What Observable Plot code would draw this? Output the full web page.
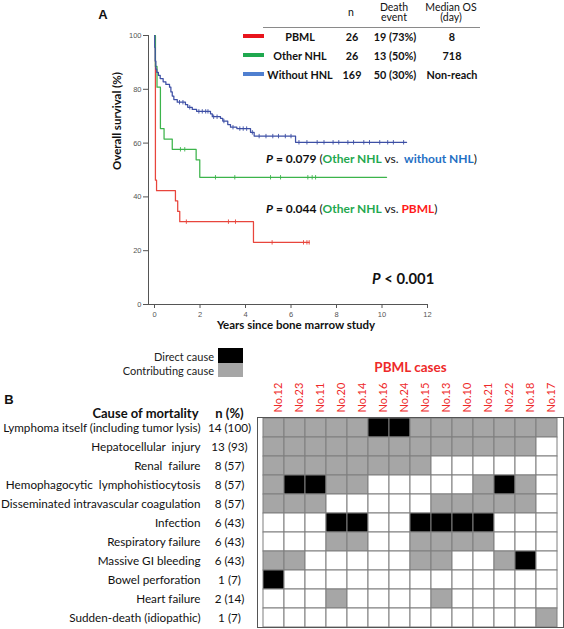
<!DOCTYPE html>
<html><head><meta charset="utf-8">
<script src="https://cdn.jsdelivr.net/npm/d3@7"></script>
<script src="https://cdn.jsdelivr.net/npm/@observablehq/plot@0.6"></script>
<style>
body{margin:0;background:#fff;}
#wrap{position:relative;width:564px;height:629px;overflow:hidden;font-family:Lato,"Open Sans",sans-serif;color:#111;}
#wrap svg{position:absolute;left:0;}
.abs{position:absolute;white-space:pre;line-height:1;}
</style></head><body><div id="wrap"></div>
<script>
// ---------- Panel A data ----------
const groupNames = ["PBML", "Other NHL", "Without HNL"];
const groupN = ["26", "26", "169"];
const groupDeaths = ["19 (73%)", "13 (50%)", "50 (30%)"];
const groupMedian = ["8", "718", "Non-reach"];
// Kaplan-Meier steps [years, survival %]
const pbmlSteps = [[0,100],[0.04,46.2],[0.09,42.3],[0.92,38.5],[1.02,34.6],[1.11,30.8],[4.35,23.1],[6.8,23.1]];
const otherSteps = [[0,100],[0.04,88.5],[0.11,80.8],[0.26,65.4],[0.42,61.5],[0.78,57.7],[1.83,53.8],[1.99,47.3],[10.2,47.3]];
const withoutSteps = [[0,100],[0.01,95.5],[0.03,90.5],[0.06,87.5],[0.1,86.3],[0.17,85.2],[0.25,84.0],[0.38,82.8],[0.5,81.8],[0.66,80.8],[0.72,79.0],[0.78,77.5],[0.85,76.2],[1.0,75.2],[1.36,74.3],[1.46,73.3],[1.66,72.5],[1.85,71.8],[2.46,70.9],[2.54,69.8],[2.9,69.2],[3.0,68.2],[3.22,66.9],[3.34,65.9],[3.62,65.4],[4.22,64.0],[4.38,62.6],[6.2,60.3],[11.08,60.3]];
// censor times (years)
const pbmlCensor = [1.4, 3.25, 3.56, 5.17, 6.55, 6.7, 6.8];
const otherCensor = [1.14, 1.33, 2.68, 3.53, 5.1, 5.54, 6.74, 6.93, 7.08];
const withoutCensor = [1.1, 1.25, 1.55, 1.95, 2.1, 2.25, 2.35, 2.6, 2.75, 3.05, 3.45, 3.75, 3.9, 4.05, 4.3, 4.6, 4.9, 5.2, 5.45, 5.75, 6.0, 6.35, 6.7, 7.15, 7.45, 7.85, 8.1, 8.5, 8.75, 9.2, 9.45, 9.9, 10.25, 10.5, 10.95];
const xTicks = [0, 2, 4, 6, 8, 10, 12];
const yTicks = [0, 20, 40, 60, 80, 100];
const lineColors = ["#e8453c", "#3cb44b", "#3d4fa5"];
const swatchColors = ["#e8141c", "#1fa84f", "#4f7fd0"];

// ---------- Panel B data ----------
const cases = ["No.12","No.23","No.11","No.20","No.14","No.16","No.24","No.15","No.13","No.10","No.21","No.22","No.18","No.17"];
const causes = ["Lymphoma itself (including tumor lysis)","Hepatocellular  injury","Renal  failure","Hemophagocytic  lymphohistiocytosis","Disseminated intravascular coagulation","Infection","Respiratory failure","Massive GI bleeding","Bowel perforation","Heart failure","Sudden-death (idiopathic)"];
const causeCounts = ["14 (100)","13 (93)","8 (57)","8 (57)","8 (57)","6 (43)","6 (43)","6 (43)","1 (7)","2 (14)","1 (7)"];
// 0 = none, 1 = contributing cause, 2 = direct cause
const causeMatrix = [
  [1,1,1,1,1,2,2,1,1,1,1,1,1,1],
  [1,1,1,1,1,1,1,1,1,1,1,1,1,0],
  [1,1,1,1,1,1,1,1,0,0,0,0,0,0],
  [1,2,2,1,1,0,0,0,0,0,1,2,1,0],
  [1,1,1,0,0,0,0,0,1,1,1,1,1,0],
  [0,0,0,2,2,0,0,2,2,2,2,0,0,0],
  [0,0,0,1,1,0,0,1,1,1,1,0,0,0],
  [1,1,0,0,0,0,0,1,1,0,0,1,2,0],
  [2,0,0,0,0,0,0,0,0,0,0,0,0,0],
  [0,0,0,1,0,0,0,0,1,0,0,0,0,0],
  [0,0,0,0,0,0,0,0,0,0,0,0,0,1]
];
const cellColors = ["#ffffff", "#a6a6a6", "#000000"];
const redText = "#ee2a2a";

const wrap = document.getElementById("wrap");

// ---------- Panel A plot ----------
const allSteps = [pbmlSteps, otherSteps, withoutSteps];
const allCensor = [pbmlCensor, otherCensor, withoutCensor];
const stepAt = (steps, t) => { let v = steps[0][1]; for (const [tt, s] of steps) if (tt <= t) v = s; return v; };
const lineData = allSteps.flatMap((st, i) => st.map(([t, s]) => ({t, s, g: groupNames[i]})));
const censorData = allCensor.flatMap((cs, i) => cs.map(t => ({t, s: stepAt(allSteps[i], t), g: groupNames[i]})));
const vtick = {draw(ctx, size){ const r = Math.sqrt(size / Math.PI); ctx.moveTo(0, -r); ctx.lineTo(0, r); }};

const plotA = Plot.plot({
  width: 564, height: 340,
  marginLeft: 148, marginRight: 137, marginTop: 35, marginBottom: 36,
  style: {fontFamily: "'Liberation Sans', Arial, sans-serif", fontSize: "7.5px", color: "#555", background: "transparent"},
  x: {domain: [-0.264, 12], ticks: xTicks, tickSize: 4, tickPadding: 3, line: true, label: null},
  y: {domain: [0, 100], ticks: yTicks, tickSize: 5, tickPadding: 2, line: true, label: null},
  color: {domain: groupNames, range: lineColors},
  marks: [
    Plot.line(lineData, {x: "t", y: "s", z: "g", stroke: "g", curve: "step-after", strokeWidth: 1.25}),
    Plot.dot(censorData, {x: "t", y: "s", stroke: "g", symbol: vtick, r: 2.2, fill: "none", strokeWidth: 0.9}),
    Plot.text(["Overall survival (%)"], {text: d => d, frameAnchor: "left", rotate: -90, dx: -31, fontWeight: "bold", fontSize: 11.5, fill: "#111", fontFamily: "Lato"}),
    Plot.text(["Years since bone marrow study"], {text: d => d, frameAnchor: "bottom", dy: 24, dx: 8, fontWeight: "bold", fontSize: 11.5, fill: "#111", fontFamily: "Lato"})
  ]
});
plotA.style.top = "0px";
wrap.appendChild(plotA);

// ---------- Panel B plot ----------
const cellData = causeMatrix.flatMap((row, i) => row.map((v, j) => ({cause: causes[i], kase: cases[j], v})));
const rowData = causes.map((c, i) => ({cause: c, n: causeCounts[i]}));
const plotB = Plot.plot({
  width: 564, height: 289,
  marginLeft: 257, marginRight: 1, marginTop: 77, marginBottom: 2,
  style: {fontFamily: "Lato, sans-serif", fontSize: "11px", color: "#111", background: "transparent"},
  x: {domain: cases, padding: 0, axis: null},
  y: {domain: causes, padding: 0, axis: null},
  color: {type: "ordinal", domain: [0, 1, 2], range: cellColors},
  marks: [
    Plot.cell(cellData, {x: "kase", y: "cause", fill: "v", stroke: "#7f7f7f", strokeWidth: 1}),
    Plot.frame({stroke: "#555", strokeWidth: 1}),
    Plot.text(cases, {x: d => d, text: d => d, frameAnchor: "top", rotate: -90, textAnchor: "start", dy: -5, fill: redText, fontSize: 11}),
    Plot.text(rowData, {y: "cause", text: "cause", frameAnchor: "left", textAnchor: "end", dx: -57, fontSize: 11.7}),
    Plot.text(rowData, {y: "cause", text: "n", frameAnchor: "left", textAnchor: "middle", dx: -28, fontSize: 11.7}),
    Plot.text(["Cause of mortality"], {text: d => d, frameAnchor: "top-left", textAnchor: "end", dx: -59, dy: -9, fontWeight: "bold", fontSize: 13}),
    Plot.text(["n (%)"], {text: d => d, frameAnchor: "top-left", textAnchor: "middle", dx: -28, dy: -9, fontWeight: "bold", fontSize: 13}),
    Plot.text(["PBML cases"], {text: d => d, frameAnchor: "top", dy: -55, fontWeight: "bold", fontSize: 13.5, fill: redText})
  ]
});
plotB.style.top = "340px";
wrap.appendChild(plotB);

// ---------- overlays: panel labels, legend table, annotations ----------
function put(html, x, y, anchor, css) {
  const d = document.createElement("div");
  d.className = "abs";
  d.innerHTML = html;
  d.style.cssText += css || "";
  d.style.left = x + "px"; d.style.top = y + "px";
  const tx = anchor === "start" ? "0" : anchor === "end" ? "-100%" : "-50%";
  d.style.transform = `translate(${tx},-50%)`;
  wrap.appendChild(d);
  return d;
}
function box(x, y, w, h, color) {
  const d = document.createElement("div");
  d.style.cssText = `position:absolute;left:${x}px;top:${y}px;width:${w}px;height:${h}px;background:${color};`;
  wrap.appendChild(d);
}
put("A", 103, 14, "middle", "font:bold 13px 'Liberation Sans',Arial,sans-serif;");
put("B", 9, 399, "middle", "font:bold 13px 'Liberation Sans',Arial,sans-serif;");

// legend table
const hdr = "font:10.5px Lato,sans-serif;text-align:center;line-height:10px;";
put("n", 351, 12, "middle", hdr);
put("Death\nevent", 394, 12, "middle", hdr);
put("Median OS\n(day)", 451, 12, "middle", hdr);
box(263, 26.5, 217, 1.6, "#8a8a8a");
const rowY = [36, 55, 73.5];
const cellCss = "font:bold 10.8px Lato,sans-serif;";
groupNames.forEach((g, i) => {
  box(243, rowY[i] - 2, 21, 4, swatchColors[i]);
  put(g, 300, rowY[i], "middle", cellCss);
  put(groupN[i], 352, rowY[i], "middle", cellCss);
  put(groupDeaths[i], 395, rowY[i], "middle", cellCss);
  put(groupMedian[i], 452, rowY[i], "middle", cellCss);
});

// p-value annotations
const pCss = "font:bold 12px Lato,sans-serif;";
const grn = "#1fa84f", blu = "#1f6fc4", red = "#ff1a1a";
put(`<i>P</i> = 0.079 <span style="font-weight:normal">(</span><span style="color:${grn}">Other NHL</span> <span style="font-weight:normal">vs.</span>  <span style="color:${blu}">without NHL</span><span style="font-weight:normal">)</span>`, 266, 158, "start", pCss);
put(`<i>P</i> = 0.044 <span style="font-weight:normal">(</span><span style="color:${grn}">Other NHL</span> <span style="font-weight:normal">vs.</span> <span style="color:${red}">PBML</span><span style="font-weight:normal">)</span>`, 266, 208, "start", pCss);
put(`<i>P</i> &lt; 0.001`, 372, 278, "start", "font:bold 14.8px Lato,sans-serif;");

// panel B legend
const legCss = "font:11px Lato,sans-serif;color:#222;";
put("Direct cause", 214, 356, "end", legCss);
put("Contributing cause", 214, 370, "end", legCss);
box(218, 348, 25, 15, "#000");
box(218, 363, 25, 14, "#a6a6a6");
</script>
</body></html>
